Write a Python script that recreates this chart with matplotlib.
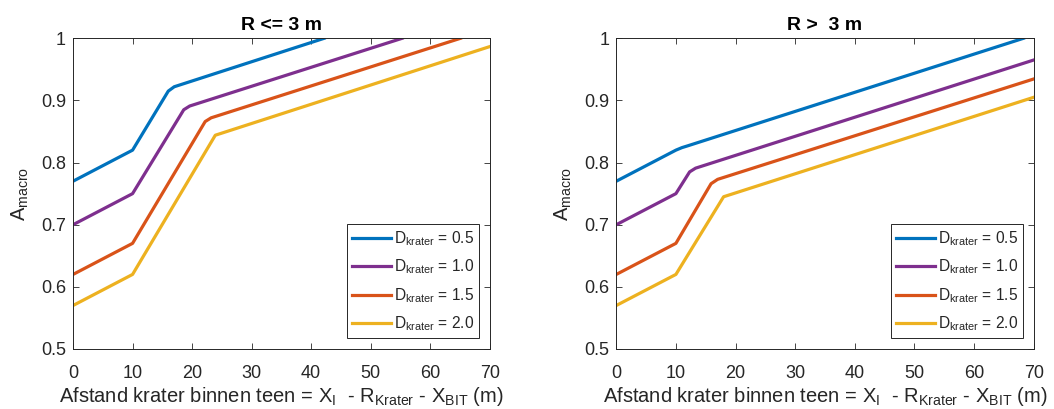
import matplotlib
matplotlib.use("Agg")
import matplotlib.pyplot as plt

plt.rcParams['font.family'] = ['Liberation Sans', 'DejaVu Sans']
plt.rcParams['mathtext.fontset'] = 'custom'
plt.rcParams['mathtext.rm'] = 'Liberation Sans'
plt.rcParams['mathtext.it'] = 'Liberation Sans'

# Crater diameters (legend entries)
d_krater = ["0.5", "1.0", "1.5", "2.0"]
colors = ["#0072BD", "#7E2F8E", "#D95319", "#EDB120"]

# R <= 3 m
left_x = [
    [0, 10, 16, 17, 42.2],
    [0, 10, 18.6, 19.6, 55.3],
    [0, 10, 22.2, 23.2, 65.1],
    [0, 10, 23.9, 70],
]
left_y = [
    [0.77, 0.82, 0.915, 0.922, 1.0],
    [0.70, 0.75, 0.885, 0.891, 1.0],
    [0.62, 0.67, 0.866, 0.872, 1.0],
    [0.57, 0.62, 0.844, 0.9866],
]

# R > 3 m
right_x = [
    [0, 10, 11, 12, 68.3],
    [0, 10, 12.3, 13.3, 70],
    [0, 10, 15.9, 17, 70],
    [0, 10, 18, 70],
]
right_y = [
    [0.77, 0.82, 0.824, 0.827, 1.0],
    [0.70, 0.75, 0.785, 0.791, 0.965],
    [0.62, 0.67, 0.766, 0.773, 0.9345],
    [0.57, 0.62, 0.745, 0.905],
]

titles = ["R <= 3 m", "R >  3 m"]
xticks = [0, 10, 20, 30, 40, 50, 60, 70]
yticks = [0.5, 0.6, 0.7, 0.8, 0.9, 1.0]
ytick_labels = ["0.5", "0.6", "0.7", "0.8", "0.9", "1"]

fig = plt.figure(figsize=(10.54, 4.09), dpi=100)
ax_l = fig.add_axes([0.0693, 0.1467, 0.3953, 0.7597])
ax_r = fig.add_axes([0.5847, 0.1467, 0.3960, 0.7597])

axis_color = "#262626"
xlabel = (r'Afstand krater binnen teen = X$_{\mathregular{I}}$  - '
          r'R$_{\mathregular{Krater}}$ - X$_{\mathregular{BIT}}$ (m)')

for ax, xs, ys, title in [(ax_l, left_x, left_y, titles[0]),
                          (ax_r, right_x, right_y, titles[1])]:
    for x, y, c, d in zip(xs, ys, colors, d_krater):
        ax.plot(x, y, color=c, lw=2.3, solid_joinstyle='round',
                label=r'D$_{\mathregular{krater}}$ = ' + d)
    ax.set_xlim(0, 70)
    ax.set_ylim(0.5, 1.0)
    ax.set_xticks(xticks)
    ax.set_yticks(yticks)
    ax.set_yticklabels(ytick_labels)
    ax.tick_params(direction='in', top=True, right=True, length=4,
                   width=0.6, colors=axis_color, labelsize=13)
    ax.tick_params(axis='x', pad=11.5)
    ax.tick_params(axis='y', pad=5)
    for s in ax.spines.values():
        s.set_color(axis_color)
        s.set_linewidth(0.7)
    ax.set_title(title, fontsize=14, fontweight='bold', pad=6)
    ax.set_xlabel(xlabel, fontsize=14.5, color=axis_color, labelpad=2)
    ax.set_ylabel(r'A$_{\mathregular{macro}}$', fontsize=14.5,
                  color=axis_color, labelpad=7)
    leg = ax.legend(loc='lower right', bbox_to_anchor=(0.975, 0.035),
                    fontsize=11.2, frameon=True, fancybox=False,
                    framealpha=1, edgecolor=axis_color, handlelength=2.5,
                    handletextpad=0.2, labelspacing=0.62,
                    borderpad=0.32, borderaxespad=0)
    leg.get_frame().set_linewidth(0.7)
    for t in leg.get_texts():
        t.set_color(axis_color)

fig.savefig("out.png", dpi=100)
